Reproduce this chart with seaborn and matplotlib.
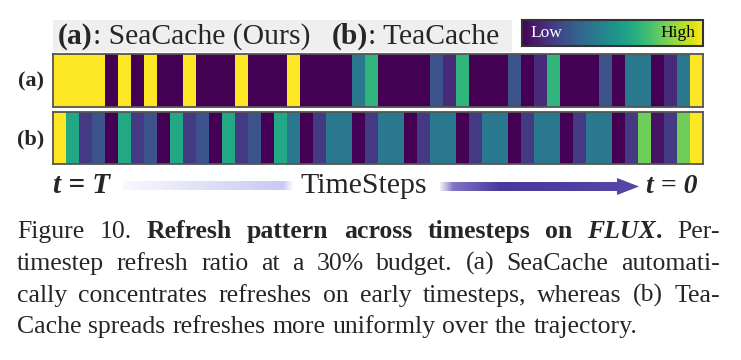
import numpy as np
import matplotlib
matplotlib.use("Agg")
import matplotlib.pyplot as plt
import seaborn as sns
from matplotlib.patches import Rectangle, Polygon
from matplotlib.colors import LinearSegmentedColormap

# per-timestep refresh ratio (0 = low, 1 = high), 50 timesteps, t=T -> t=0
row_labels = ["(a)", "(b)"]
seacache = [1.0, 1.0, 1.0, 1.0, 0.0, 1.0, 0.0, 1.0, 0.0, 0.0,
            1.0, 0.0, 0.0, 0.0, 1.0, 0.0, 0.0, 0.0, 1.0, 0.0,
            0.0, 0.0, 0.0, 0.4, 0.65, 0.0, 0.0, 0.0, 0.0, 0.25,
            0.12, 0.65, 0.0, 0.0, 0.0, 0.25, 0.0, 0.12, 0.65, 0.0,
            0.0, 0.0, 0.25, 0.0, 0.4, 0.4, 0.0, 0.12, 0.4, 1.0]
teacache = [1.0, 0.6, 0.17, 0.25, 0.0, 0.6, 0.17, 0.25, 0.0, 0.6,
            0.17, 0.25, 0.0, 0.6, 0.17, 0.25, 0.0, 0.6, 0.4, 0.0,
            0.17, 0.4, 0.4, 0.0, 0.17, 0.4, 0.4, 0.0, 0.17, 0.4,
            0.4, 0.0, 0.17, 0.4, 0.4, 0.0, 0.17, 0.4, 0.4, 0.0,
            0.17, 0.4, 0.4, 0.0, 0.17, 0.78, 0.05, 0.17, 0.78, 1.0]

caption_lines = [
    [[("Figure", "n")], [("10.", "n")], [("Refresh", "b")], [("pattern", "b")],
     [("across", "b")], [("timesteps", "b")], [("on", "b")],
     [("FLUX", "bi"), (".", "b")], [("Per-", "n")]],
    [[(w, "n")] for w in "timestep refresh ratio at a 30% budget. (a) SeaCache automati-".split()],
    [[(w, "n")] for w in "cally concentrates refreshes on early timesteps, whereas (b) Tea-".split()],
    [[(w, "n")] for w in "Cache spreads refreshes more uniformly over the trajectory.".split()],
]

W, H = 741, 360
sns.set_theme(style="white")
plt.rcParams["font.family"] = ["Liberation Serif", "DejaVu Serif"]

fig = plt.figure(figsize=(W / 100, H / 100), dpi=100)
renderer = fig.canvas.get_renderer()


def fx(x):
    return x / W


def fy(y):
    return 1 - y / H


STYLES = {"n": {}, "b": {"fontweight": "bold"},
          "bi": {"fontweight": "bold", "fontstyle": "italic"}}


def put_runs(x, y, pieces, size):
    # write text pieces one after another on the same baseline
    for text, st in pieces:
        t = fig.text(fx(x), fy(y), text, fontsize=size, va="baseline", ha="left", **STYLES[st])
        x += t.get_window_extent(renderer).width
    return x


# background overlay in pixel coordinates
bg = fig.add_axes([0, 0, 1, 1])
bg.set_xlim(0, W)
bg.set_ylim(H, 0)
bg.axis("off")
bg.patch.set_visible(False)

# heatmap rows
datas = [seacache, teacache]
boxes = [(54, 107), (112, 164)]
for data, lab, (y0, y1) in zip(datas, row_labels, boxes):
    ax = fig.add_axes([fx(53), fy(y1), fx(650), (y1 - y0) / H])
    sns.heatmap(np.array([data]), ax=ax, cmap="viridis", vmin=0, vmax=1, cbar=False,
                xticklabels=False, yticklabels=False)
    for s in ax.spines.values():
        s.set_visible(True)
        s.set_color("#555555")
        s.set_linewidth(1.3)
    fig.text(fx(31), fy((y0 + y1) / 2 + 1), lab, fontsize=16, fontweight="bold",
             ha="center", va="center")

# title box
bg.add_patch(Rectangle((53, 20), 459, 32, facecolor="#efefef", edgecolor="none"))
put_runs(58, 44, [("(a)", "b"), (": SeaCache (Ours)", "n")], 21.3)
put_runs(332, 44, [("(b)", "b"), (": TeaCache", "n")], 21.3)

# Low/High legend
cax = fig.add_axes([fx(522), fy(46), fx(181), 26 / H])
cb = fig.colorbar(plt.cm.ScalarMappable(cmap="viridis"), cax=cax, orientation="horizontal")
cb.set_ticks([])
cb.outline.set_edgecolor("#333333")
cb.outline.set_linewidth(1.5)
cax.text(0.045, 0.5, "Low", transform=cax.transAxes, color="white", fontsize=12.5,
         ha="left", va="center")
cax.text(0.96, 0.5, "High", transform=cax.transAxes, color="black", fontsize=12.5,
         ha="right", va="center")

# time axis: faint bar, label, arrow
n = 200
ramp = np.linspace(0, 1, n)
left_rgba = np.zeros((1, n, 4))
left_rgba[..., 0] = 0.78
left_rgba[..., 1] = 0.78
left_rgba[..., 2] = 0.96
left_rgba[0, :, 3] = np.minimum(0.12 + 0.88 * ramp, np.clip((1 - ramp) * 15, 0, 1))
bg.imshow(left_rgba, extent=(123, 294, 190.5, 181.5), aspect="auto", interpolation="bilinear")

arrow_cmap = LinearSegmentedColormap.from_list("arr", ["#8f86d0", "#4a399d", "#4d3da0", "#5546a6"])
right_rgba = arrow_cmap(ramp)[None, :, :]
right_rgba[0, :, 3] = np.clip(ramp * 12 + 0.15, 0, 1)
bg.imshow(right_rgba, extent=(440, 618, 191, 182), aspect="auto", interpolation="bilinear")
bg.add_patch(Polygon([(617, 178), (639, 186.5), (617, 195)], closed=True,
                     facecolor="#5546a6", edgecolor="none"))

fig.text(fx(53), fy(193), "t = T", fontsize=21, fontweight="bold", fontstyle="italic",
         va="baseline", ha="left")
fig.text(fx(646), fy(193), "t = 0", fontsize=20, fontweight="bold", fontstyle="italic",
         va="baseline", ha="left")
fig.text(fx(364), fy(193), "TimeSteps", fontsize=21.5, va="baseline", ha="center")

# caption, justified between x=17 and x=720
cap_size = 18.5
left, right = 17, 720
baselines = [238, 270, 302, 333]
space = 0.27 * cap_size * 100 / 72
for i, (tokens, yb) in enumerate(zip(caption_lines, baselines)):
    objs = []
    widths = []
    for tok in tokens:
        parts = []
        w = 0
        for text, st in tok:
            t = fig.text(0, fy(yb), text, fontsize=cap_size, va="baseline", ha="left", **STYLES[st])
            parts.append(t)
            w += t.get_window_extent(renderer).width
        objs.append(parts)
        widths.append(w)
    if i < len(caption_lines) - 1:
        gap = (right - left - sum(widths)) / (len(tokens) - 1)
    else:
        gap = space
    x = left
    for parts in objs:
        for t in parts:
            t.set_x(fx(x))
            x += t.get_window_extent(renderer).width
        x += gap

fig.savefig("out.png", dpi=100)
